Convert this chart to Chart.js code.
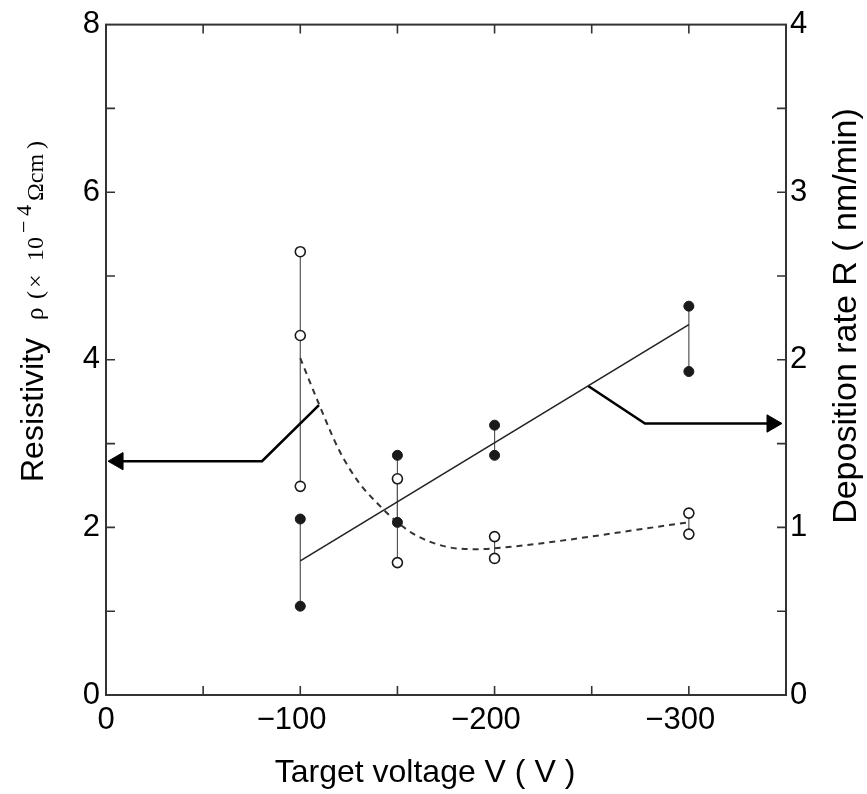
<!DOCTYPE html>
<html><head><meta charset="utf-8">
<script src="https://cdn.jsdelivr.net/npm/chart.js@4/dist/chart.umd.min.js"></script>
<style>html,body{margin:0;padding:0;background:#fff}#wrap{width:867px;height:794px;position:relative}</style>
</head><body><div id="wrap"><canvas id="c"></canvas></div>
<script>
// ---- data ----
const voltages = [-100, -150, -200, -300];
const rhoMeasured = [[5.29, 4.29, 2.49], [2.58, 1.58], [1.89, 1.63], [2.17, 1.92]];   // open circles, left axis
const rateMeasured = [[1.05, 0.53], [1.43, 1.03], [1.61, 1.43], [2.32, 1.93]];        // filled circles, right axis
const rhoFitV = [-100, -110, -120, -130, -140, -150, -160, -175, -190, -200, -300];
const rhoFitY = [4.02, 3.45, 2.92, 2.54, 2.28, 2.06, 1.90, 1.77, 1.74, 1.75, 2.06];
const rateFitV = [-100, -300];
const rateFitY = [0.80, 2.21];
const arrowRhoV = [-109.6, -80.3, -6.2];
const arrowRhoY = [3.46, 2.79, 2.79];
const arrowRateV = [-248, -277.4, -342.8];
const arrowRateY = [1.845, 1.62, 1.62];
const xTickLabels = [0, -100, -200, -300];
const rhoTickLabels = [0, 2, 4, 6, 8];
const rateTickLabels = [0, 1, 2, 3, 4];

const INK = '#1a1a1a';
const pts = (xs, ys) => xs.map((x, i) => ({x, y: ys[i]}));

const datasets = [];
// markers (on top)
datasets.push({
  label: 'rho', yAxisID: 'y', order: 0,
  data: voltages.flatMap((v, i) => rhoMeasured[i].map(y => ({x: v, y}))),
  pointRadius: 5, pointHoverRadius: 5, pointBackgroundColor: '#fff', pointBorderColor: INK, pointBorderWidth: 1.6, showLine: false
});
datasets.push({
  label: 'rate', yAxisID: 'y1', order: 0,
  data: voltages.flatMap((v, i) => rateMeasured[i].map(y => ({x: v, y}))),
  pointRadius: 5, pointHoverRadius: 5, pointBackgroundColor: INK, pointBorderColor: INK, pointBorderWidth: 1, showLine: false
});
// vertical range lines
voltages.forEach((v, i) => {
  const r = rhoMeasured[i];
  datasets.push({label: 'rhoRange' + i, yAxisID: 'y', order: 2, showLine: true, pointRadius: 0,
    borderColor: '#555', borderWidth: 1.2, data: [{x: v, y: Math.max(...r)}, {x: v, y: Math.min(...r)}]});
  const q = rateMeasured[i];
  datasets.push({label: 'rateRange' + i, yAxisID: 'y1', order: 2, showLine: true, pointRadius: 0,
    borderColor: '#555', borderWidth: 1.2, data: [{x: v, y: Math.max(...q)}, {x: v, y: Math.min(...q)}]});
});
// fitted curves
datasets.push({label: 'rhoFit', yAxisID: 'y', order: 1, showLine: true, pointRadius: 0,
  borderColor: '#333', borderWidth: 2, borderDash: [6, 5], cubicInterpolationMode: 'monotone',
  data: pts(rhoFitV, rhoFitY)});
datasets.push({label: 'rateFit', yAxisID: 'y1', order: 1, showLine: true, pointRadius: 0,
  borderColor: '#222', borderWidth: 1.6, data: pts(rateFitV, rateFitY)});
// arrows
datasets.push({label: 'arrowRho', yAxisID: 'y', order: 1, showLine: true,
  borderColor: '#000', borderWidth: 2.6, data: pts(arrowRhoV, arrowRhoY),
  pointRadius: [0, 0, 10], pointStyle: 'triangle', rotation: -90, pointBackgroundColor: '#000', pointBorderColor: '#000', pointBorderWidth: 1});
datasets.push({label: 'arrowRate', yAxisID: 'y1', order: 1, showLine: true,
  borderColor: '#000', borderWidth: 2.6, data: pts(arrowRateV, arrowRateY),
  pointRadius: [0, 0, 10], pointStyle: 'triangle', rotation: 90, pointBackgroundColor: '#000', pointBorderColor: '#000', pointBorderWidth: 1});

const frameTicks = {
  id: 'frameTicks',
  beforeDatasetsDraw(chart) {
    const {ctx, chartArea: a, scales} = chart;
    ctx.save();
    ctx.strokeStyle = '#333';
    ctx.lineWidth = 2;
    ctx.strokeRect(a.left, a.top, a.right - a.left, a.bottom - a.top);
    ctx.lineWidth = 1.6;
    const L = 9;
    ctx.beginPath();
    for (let v = -300; v <= -50; v += 50) {
      const px = scales.x.getPixelForValue(v);
      ctx.moveTo(px, a.bottom); ctx.lineTo(px, a.bottom - L);
      ctx.moveTo(px, a.top); ctx.lineTo(px, a.top + L);
    }
    for (let v = 1; v <= 7; v++) {
      const py = scales.y.getPixelForValue(v);
      ctx.moveTo(a.left, py); ctx.lineTo(a.left + L, py);
    }
    for (let v = 0.5; v <= 3.5; v += 0.5) {
      const py = scales.y1.getPixelForValue(v);
      ctx.moveTo(a.right, py); ctx.lineTo(a.right - L, py);
    }
    ctx.stroke();
    ctx.restore();
  }
};

const SERIF = '"Liberation Serif", "DejaVu Serif", serif';
const titles = {
  id: 'titles',
  afterDraw(chart) {
    const ctx = chart.ctx;
    ctx.save();
    ctx.fillStyle = '#000';
    ctx.textBaseline = 'alphabetic';
    // x title
    ctx.font = '32px "Liberation Sans", Arial, sans-serif';
    ctx.textAlign = 'center';
    ctx.fillText('Target voltage V ( V )', 425, 782);
    // right title
    ctx.save();
    ctx.translate(856, 316);
    ctx.rotate(-Math.PI / 2);
    ctx.font = '34px "Liberation Sans", Arial, sans-serif';
    ctx.textAlign = 'center';
    ctx.fillText('Deposition rate R ( nm/min)', 0, 0);
    ctx.restore();
    // left title (mixed fonts)
    ctx.save();
    ctx.translate(43, 482);
    ctx.rotate(-Math.PI / 2);
    ctx.textAlign = 'left';
    ctx.font = '32px "Liberation Sans", Arial, sans-serif';
    ctx.fillText('Resistivity', 0, 0);
    ctx.font = '25px ' + SERIF;
    ctx.fillText('\u03C1', 162, 0);
    ctx.font = '24px ' + SERIF;
    ctx.fillText('(', 183, 0);
    ctx.fillText('\u00D7', 194, 0);
    ctx.fillText('10', 221, 0);
    ctx.font = '22px ' + SERIF;
    ctx.fillText('\u2212', 249, -12);
    ctx.fillText('4', 266, -12);
    ctx.font = '24px ' + SERIF;
    ctx.fillText('\u03A9cm', 281, 0);
    ctx.fillText(')', 333, 0);
    ctx.restore();
    ctx.restore();
  }
};

const tickFont = {family: '"Liberation Sans", Arial, sans-serif', size: 31};

new Chart(document.getElementById('c'), {
  type: 'scatter',
  data: {datasets},
  options: {
    responsive: true, maintainAspectRatio: false, animation: false,
    layout: {padding: {top: 23, left: 0, right: 0, bottom: 0}},
    plugins: {legend: {display: false}, tooltip: {enabled: false}},
    elements: {line: {tension: 0}},
    scales: {
      x: {
        type: 'linear', min: -350, max: 0, reverse: true,
        grid: {display: false, drawTicks: false}, border: {display: false},
        ticks: {stepSize: 50, autoSkip: false, maxRotation: 0, padding: 7, color: '#000', font: tickFont,
          callback: v => xTickLabels.includes(v) ? (v === 0 ? '0' : '\u2212' + Math.abs(v) + '\u2007') : ''},
        afterFit: s => { s.height = 99; }
      },
      y: {
        position: 'left', min: 0, max: 8,
        grid: {display: false, drawTicks: false}, border: {display: false},
        ticks: {stepSize: 1, autoSkip: false, padding: 6, color: '#000', font: tickFont,
          callback: v => rhoTickLabels.includes(v) ? String(v) : ''},
        afterFit: s => { s.width = 106; }
      },
      y1: {
        position: 'right', min: 0, max: 4,
        grid: {display: false, drawTicks: false}, border: {display: false},
        ticks: {stepSize: 0.5, autoSkip: false, padding: 4, color: '#000', font: tickFont,
          callback: v => rateTickLabels.includes(v) ? String(v) : ''},
        afterFit: s => { s.width = 81; }
      }
    }
  },
  plugins: [frameTicks, titles]
});
</script>
</body></html>
